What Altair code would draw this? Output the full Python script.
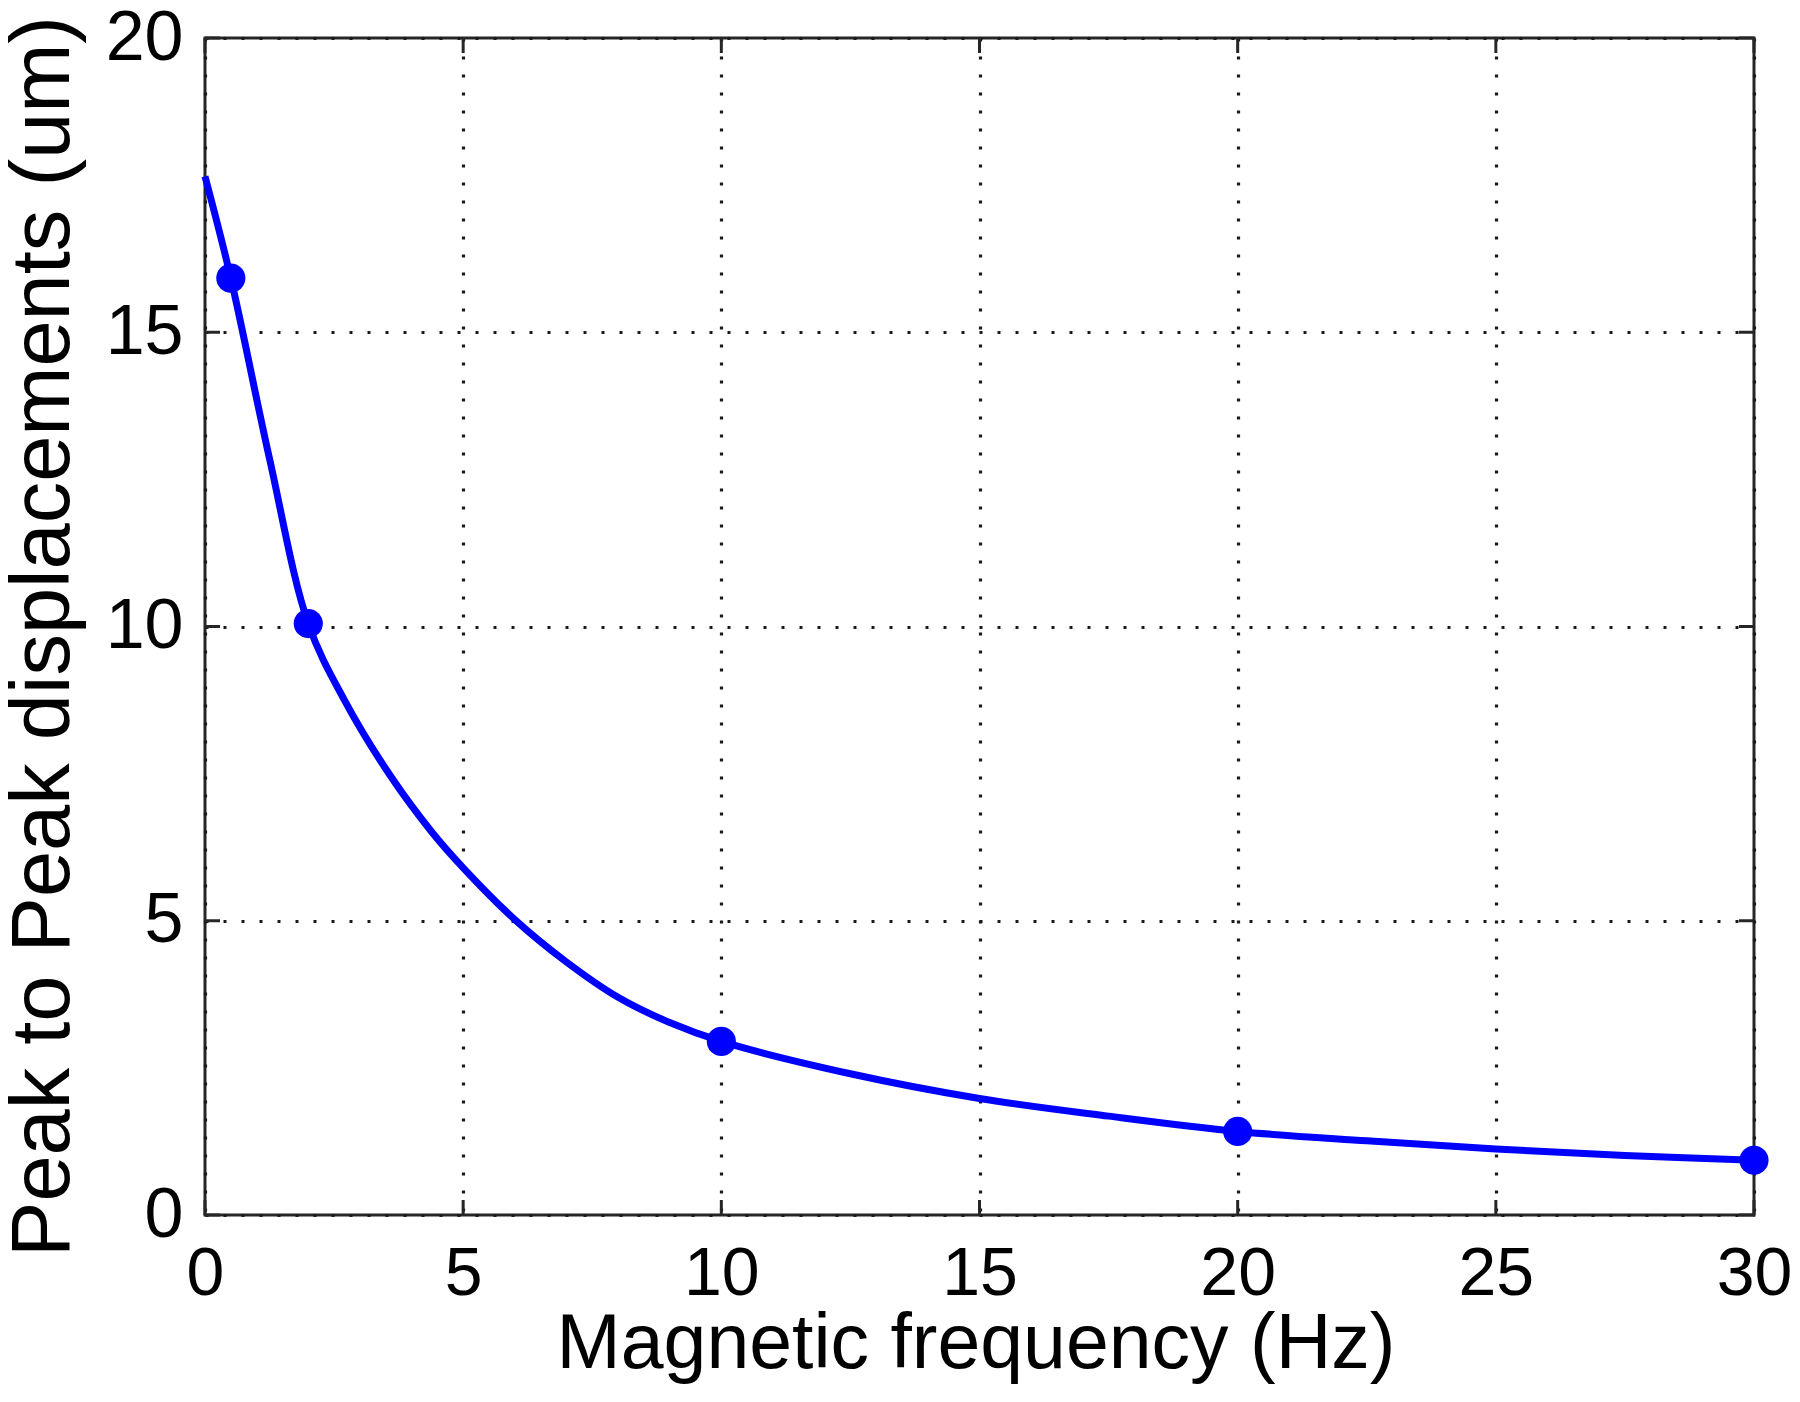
import altair as alt
import pandas as pd

# Smooth curve
curve_x = [0, 0.5, 1.25, 2, 2.7, 3.6, 4.4, 5, 6, 7, 8, 9, 10, 12.5, 15, 17.5, 20, 22.5, 25, 27.5, 30]
curve_y = [17.65, 15.92, 12.85, 10.05, 8.75, 7.45, 6.5, 5.9, 5.02, 4.3, 3.7, 3.27, 2.95, 2.4, 1.98, 1.68, 1.42, 1.26, 1.12, 1.01, 0.93]

# Measured points (markers)
point_x = [0.5, 2, 10, 20, 30]
point_y = [15.92, 10.05, 2.95, 1.42, 0.93]

x_ticks = [0, 5, 10, 15, 20, 25, 30]
y_ticks = [0, 5, 10, 15, 20]

W, H = 1549, 1177
BLUE = "#0000ff"
FONT = "Liberation Sans"
TICK_LEN = 15

curve_df = pd.DataFrame({"f": curve_x, "d": curve_y})
point_df = pd.DataFrame({"f": point_x, "d": point_y})
xt_df = pd.DataFrame({"f": x_ticks})
yt_df = pd.DataFrame({"d": y_ticks})

xscale = alt.Scale(domain=[0, 30], nice=False, zero=False)
yscale = alt.Scale(domain=[0, 20], nice=False, zero=False)

GRID = dict(grid=True, gridDash=[3, 15], gridColor="#1a1a1a", gridWidth=3.2, gridOpacity=1)

x_axis = alt.Axis(
    values=x_ticks, domain=False, ticks=False, labelFontSize=68, labelFont=FONT,
    labelColor="black", labelPadding=25, labelFlush=False, labelOverlap=False,
    title="Magnetic frequency (Hz)", titleFont=FONT, titleFontSize=77,
    titleFontWeight="normal", titleColor="black", titleX=W / 2 - 4, titleY=152,
    titleBaseline="alphabetic", titleAlign="center", **GRID,
)
y_axis = alt.Axis(
    values=y_ticks, domain=False, ticks=False, labelFontSize=70, labelFont=FONT,
    labelColor="black", labelPadding=22, labelFlush=False, labelOverlap=False,
    labelBaseline="middle",
    title="Peak to Peak displacements (um)", titleFont=FONT, titleFontSize=83,
    titleFontWeight="normal", titleColor="black", titleAngle=270,
    titleX=-137, titleY=598, titleBaseline="alphabetic", titleAlign="center", **GRID,
)

X = alt.X("f:Q", scale=xscale, axis=x_axis)
Y = alt.Y("d:Q", scale=yscale, axis=y_axis)

line = alt.Chart(curve_df).mark_line(
    color=BLUE, strokeWidth=7, interpolate="catmull-rom", clip=False
).encode(x=X, y=Y)

points = alt.Chart(point_df).mark_point(
    filled=True, shape="circle", size=850, color=BLUE, opacity=1, clip=False
).encode(x=X, y=Y)

tick_color = "#262626"
tick_w = 3
bot_ticks = alt.Chart(xt_df).mark_rule(color=tick_color, strokeWidth=tick_w).encode(
    x=X, y=alt.value(H), y2=alt.value(H - TICK_LEN)
)
top_ticks = alt.Chart(xt_df).mark_rule(color=tick_color, strokeWidth=tick_w).encode(
    x=X, y=alt.value(0), y2=alt.value(TICK_LEN)
)
left_ticks = alt.Chart(yt_df).mark_rule(color=tick_color, strokeWidth=tick_w).encode(
    y=Y, x=alt.value(0), x2=alt.value(TICK_LEN)
)
right_ticks = alt.Chart(yt_df).mark_rule(color=tick_color, strokeWidth=tick_w).encode(
    y=Y, x=alt.value(W), x2=alt.value(W - TICK_LEN)
)

chart = alt.layer(
    line, points, bot_ticks, top_ticks, left_ticks, right_ticks
).properties(
    width=W, height=H,
    autosize=alt.AutoSizeParams(type="none"),
    padding={"left": 197, "top": 30, "right": 38, "bottom": 179},
    background="white",
).configure_view(
    stroke="#262626", strokeWidth=3, fill="white"
)

chart.save("out.html", embed_options={"renderer": "svg", "actions": False})
